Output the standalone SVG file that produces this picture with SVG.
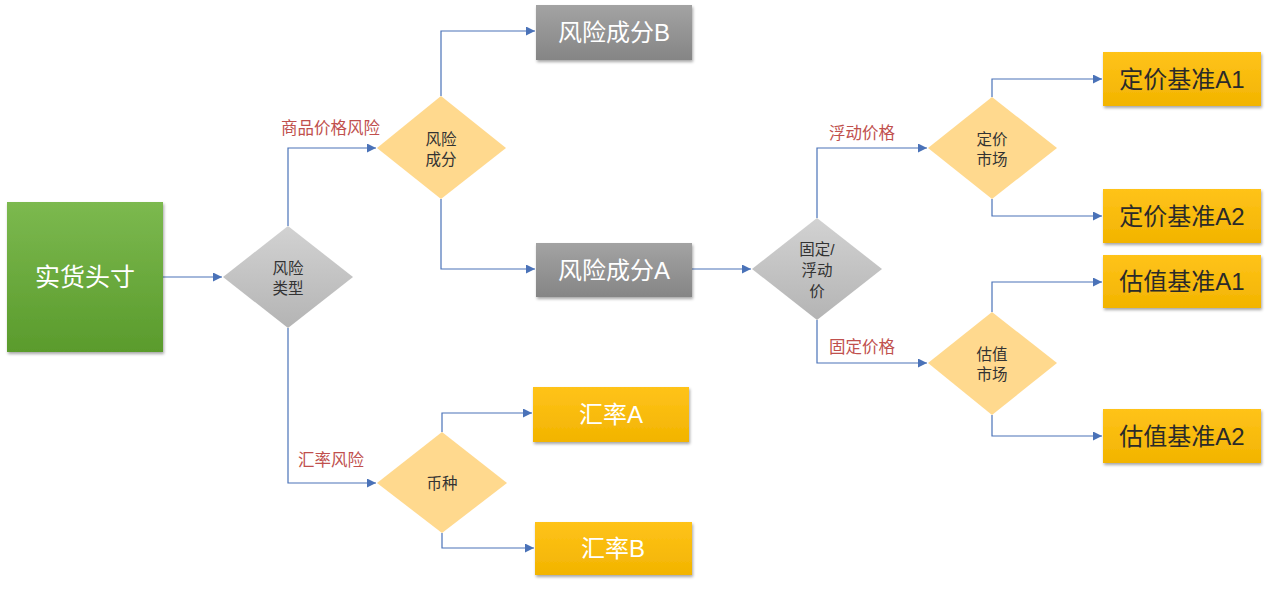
<svg xmlns="http://www.w3.org/2000/svg" width="1269" height="589" viewBox="0 0 1269 589">
<style>
.cn{font-family:"Liberation Sans","Noto Sans CJK SC",sans-serif;}
.conn{fill:none;stroke:#4a72b8;stroke-width:1.2;}
.lbl{fill:#c0504d;font-size:16.5px;}
.dtx{font-size:15.5px;fill:#333;text-anchor:middle;}
.btx{font-size:24px;text-anchor:middle;}
.w{fill:#fff;}
.k{fill:#2a2a2a;}
</style>
<defs>
<marker id="ah" viewBox="0 0 10 10" refX="10" refY="5" markerWidth="9" markerHeight="9" markerUnits="userSpaceOnUse" orient="auto">
<path d="M0,0 L10,5 L0,10 z" fill="#4a72b8"/>
</marker>
<linearGradient id="gGreen" x1="0" y1="0" x2="0" y2="1"><stop offset="0" stop-color="#7cb94f"/><stop offset="1" stop-color="#5a9b2c"/></linearGradient>
<linearGradient id="gGrayBox" x1="0" y1="0" x2="0" y2="1"><stop offset="0" stop-color="#a3a3a3"/><stop offset="1" stop-color="#858585"/></linearGradient>
<linearGradient id="gGold" x1="0" y1="0" x2="0" y2="1"><stop offset="0" stop-color="#ffc31a"/><stop offset="1" stop-color="#f2b400"/></linearGradient>
<linearGradient id="gGrayDia" x1="0" y1="0" x2="0" y2="1"><stop offset="0" stop-color="#d2d2d2"/><stop offset="1" stop-color="#b4b4b4"/></linearGradient>
<filter id="sh" x="-10%" y="-10%" width="125%" height="135%"><feDropShadow dx="1" dy="2" stdDeviation="1.5" flood-color="#000" flood-opacity="0.35"/></filter>
</defs>

<g id="connectors">
<path class="conn" d="M163,277 H222" marker-end="url(#ah)"/>
<path class="conn" d="M288,226 V148 H376" marker-end="url(#ah)"/>
<path class="conn" d="M288,328 V483 H376" marker-end="url(#ah)"/>
<path class="conn" d="M441,96 V31 H535" marker-end="url(#ah)"/>
<path class="conn" d="M441,199 V269 H535" marker-end="url(#ah)"/>
<path class="conn" d="M442,432 V413 H532" marker-end="url(#ah)"/>
<path class="conn" d="M442,533 V548 H534" marker-end="url(#ah)"/>
<path class="conn" d="M692,269 H751" marker-end="url(#ah)"/>
<path class="conn" d="M817,218 V148 H927" marker-end="url(#ah)"/>
<path class="conn" d="M817,320 V363 H927" marker-end="url(#ah)"/>
<path class="conn" d="M992,97 V79 H1102" marker-end="url(#ah)"/>
<path class="conn" d="M992,199 V216 H1102" marker-end="url(#ah)"/>
<path class="conn" d="M992,312 V282 H1102" marker-end="url(#ah)"/>
<path class="conn" d="M992,415 V436 H1102" marker-end="url(#ah)"/>
<text class="cn lbl" x="281" y="134">商品价格风险</text>
<text class="cn lbl" x="298" y="466">汇率风险</text>
<text class="cn lbl" x="829" y="139">浮动价格</text>
<text class="cn lbl" x="829" y="353">固定价格</text>
</g>

<g id="n-spot">
<rect x="7" y="202" width="156" height="150" fill="url(#gGreen)" filter="url(#sh)"/>
<text class="cn btx w" x="85" y="286" style="font-size:25px">实货头寸</text>
</g>

<g id="n-risktype">
<polygon points="288,226 353,277 288,328 223,277" fill="url(#gGrayDia)"/>
<text class="cn dtx" x="288" y="274">风险</text>
<text class="cn dtx" x="288" y="294">类型</text>
</g>

<g id="n-riskcomp">
<polygon points="441,96 506,148 441,199 377,148" fill="#ffd98e"/>
<text class="cn dtx" x="441" y="145">风险</text>
<text class="cn dtx" x="441" y="165">成分</text>
</g>

<g id="n-compB">
<rect x="536" y="5" width="156" height="55" fill="url(#gGrayBox)" filter="url(#sh)"/>
<text class="cn btx w" x="614" y="41">风险成分B</text>
</g>

<g id="n-compA">
<rect x="536" y="243" width="156" height="54" fill="url(#gGrayBox)" filter="url(#sh)"/>
<text class="cn btx w" x="614" y="279">风险成分A</text>
</g>

<g id="n-currency">
<polygon points="442,432 507,483 442,533 377,483" fill="#ffd98e"/>
<text class="cn dtx" x="442" y="489">币种</text>
</g>

<g id="n-fxA">
<rect x="533" y="387" width="156" height="55" fill="url(#gGold)" filter="url(#sh)"/>
<text class="cn btx w" x="611" y="423">汇率A</text>
</g>

<g id="n-fxB">
<rect x="535" y="522" width="157" height="53" fill="url(#gGold)" filter="url(#sh)"/>
<text class="cn btx w" x="613" y="557">汇率B</text>
</g>

<g id="n-fixfloat">
<polygon points="817,218 882,269 817,320 752,269" fill="url(#gGrayDia)"/>
<text class="cn dtx" x="817" y="255">固定/</text>
<text class="cn dtx" x="817" y="276">浮动</text>
<text class="cn dtx" x="817" y="297">价</text>
</g>

<g id="n-pricemkt">
<polygon points="992,97 1057,148 992,199 928,148" fill="#ffd98e"/>
<text class="cn dtx" x="992" y="145">定价</text>
<text class="cn dtx" x="992" y="165">市场</text>
</g>

<g id="n-valmkt">
<polygon points="992,312 1057,363 992,415 928,363" fill="#ffd98e"/>
<text class="cn dtx" x="992" y="360">估值</text>
<text class="cn dtx" x="992" y="380">市场</text>
</g>

<g id="n-pA1">
<rect x="1103" y="52" width="158" height="54" fill="url(#gGold)" filter="url(#sh)"/>
<text class="cn btx k" x="1182" y="88">定价基准A1</text>
</g>

<g id="n-pA2">
<rect x="1103" y="189" width="158" height="54" fill="url(#gGold)" filter="url(#sh)"/>
<text class="cn btx k" x="1182" y="225">定价基准A2</text>
</g>

<g id="n-vA1">
<rect x="1103" y="255" width="158" height="53" fill="url(#gGold)" filter="url(#sh)"/>
<text class="cn btx k" x="1182" y="290">估值基准A1</text>
</g>

<g id="n-vA2">
<rect x="1103" y="409" width="158" height="54" fill="url(#gGold)" filter="url(#sh)"/>
<text class="cn btx k" x="1182" y="445">估值基准A2</text>
</g>
</svg>
